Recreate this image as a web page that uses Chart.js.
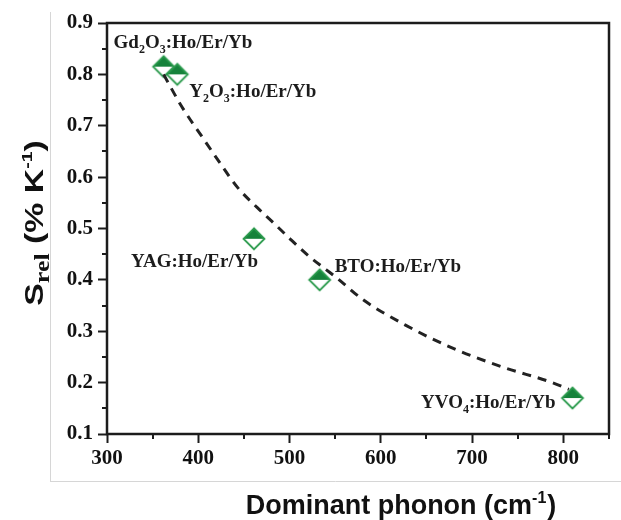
<!DOCTYPE html>
<html>
<head>
<meta charset="utf-8">
<script src="https://cdn.jsdelivr.net/npm/chart.js@4.4.0/dist/chart.umd.min.js"></script>
<style>
html,body{margin:0;padding:0;background:#fff;}
#wrap{width:621px;height:520px;position:relative;}
</style>
</head>
<body>
<div id="wrap"><canvas id="c" width="621" height="520"></canvas></div>
<script>
// ---------- data ----------
const hostNames = ['Gd₂O₃:Ho/Er/Yb', 'Y₂O₃:Ho/Er/Yb', 'YAG:Ho/Er/Yb', 'BTO:Ho/Er/Yb', 'YVO₄:Ho/Er/Yb'];
const phonon = [362, 377, 461, 533, 810];          // cm-1
const sRel = [0.815, 0.80, 0.48, 0.40, 0.17];      // % K-1

// dashed guide curve
const fitPhonon = [362, 382, 404, 424, 443, 465, 483, 501, 522, 540, 553, 580, 627, 680, 734, 788, 806];
const fitSRel   = [0.800, 0.737, 0.679, 0.627, 0.580, 0.540, 0.510, 0.479, 0.445, 0.420, 0.402, 0.362, 0.312, 0.266, 0.230, 0.200, 0.187];

const xTickValues = [300, 400, 500, 600, 700, 800];
const xTickLabels = ['300', '400', '500', '600', '700', '800'];
const yTickValues = [0.1, 0.2, 0.3, 0.4, 0.5, 0.6, 0.7, 0.8, 0.9];
const yTickLabels = ['0.1', '0.2', '0.3', '0.4', '0.5', '0.6', '0.7', '0.8', '0.9'];

const xTitle = ['Dominant phonon (cm', '-1', ')'];
const yTitle = ['S', 'rel', ' (% K', '-1', ')'];

// ---------- layout / style (kept apart from the data) ----------
const labelPlacement = [
  {dx: -50, dy: -19, align: 'left'},
  {dx: 12, dy: 23, align: 'left'},
  {dx: -123, dy: 28, align: 'left'},
  {dx: 15, dy: -8, align: 'left'},
  {dx: -17, dy: 10, align: 'right'}
];
const GREEN_FILL = '#16823b';
const GREEN_EDGE = '#2a9a4c';
const INK = '#1c1c1c';
const SERIF = '"Liberation Serif", "Times New Roman", serif';
const SANS = '"Liberation Sans", Arial, sans-serif';

function labelFor(values, labels, v) {
  for (let i = 0; i < values.length; i++) {
    if (Math.abs(values[i] - v) < 1e-6) return labels[i];
  }
  return '';
}

function makeMarker() {
  const s = 26, c = document.createElement('canvas');
  c.width = s; c.height = s;
  const g = c.getContext('2d');
  const cx = 13, cy = 13, r = 10.5;
  g.beginPath(); g.moveTo(cx - r, cy); g.lineTo(cx + r, cy); g.lineTo(cx, cy + r); g.closePath();
  g.fillStyle = '#fff'; g.fill();
  g.beginPath(); g.moveTo(cx - r, cy); g.lineTo(cx, cy - r); g.lineTo(cx + r, cy); g.closePath();
  g.fillStyle = GREEN_FILL; g.fill();
  g.beginPath(); g.moveTo(cx, cy - r); g.lineTo(cx + r, cy); g.lineTo(cx, cy + r); g.lineTo(cx - r, cy); g.closePath();
  g.strokeStyle = GREEN_EDGE; g.lineWidth = 1.8; g.lineJoin = 'miter'; g.stroke();
  return c;
}

const SUBS = '₀₁₂₃₄₅₆₇₈₉';
function segments(str) {
  const out = [];
  for (const ch of str) {
    const i = SUBS.indexOf(ch);
    const sub = i >= 0;
    const t = sub ? String(i) : ch;
    if (out.length && out[out.length - 1].sub === sub) out[out.length - 1].t += t;
    else out.push({t, sub});
  }
  return out;
}

const decor = {
  id: 'decor',
  beforeDraw(chart) {
    const ctx = chart.ctx;
    ctx.save();
    ctx.strokeStyle = '#d6d6d6';
    ctx.lineWidth = 1;
    ctx.beginPath();
    ctx.moveTo(50.5, 12); ctx.lineTo(50.5, 481.5);
    ctx.moveTo(50, 481.5); ctx.lineTo(621, 481.5);
    ctx.stroke();
    ctx.restore();
  },
  afterDatasetsDraw(chart) {
    const ctx = chart.ctx;
    const xs = chart.scales.x, ys = chart.scales.y;
    ctx.save();
    ctx.fillStyle = INK;
    ctx.textBaseline = 'alphabetic';
    hostNames.forEach((name, i) => {
      const p = labelPlacement[i];
      const px = xs.getPixelForValue(phonon[i]) + p.dx;
      const py = ys.getPixelForValue(sRel[i]) + p.dy;
      const segs = segments(name);
      let w = 0;
      segs.forEach(s => {
        ctx.font = s.sub ? 'bold 12px ' + SERIF : 'bold 19px ' + SERIF;
        s.w = ctx.measureText(s.t).width;
        w += s.w;
      });
      let x = p.align === 'right' ? px - w : px;
      ctx.textAlign = 'left';
      segs.forEach(s => {
        ctx.font = s.sub ? 'bold 12px ' + SERIF : 'bold 19px ' + SERIF;
        ctx.fillText(s.t, x, s.sub ? py + 5 : py);
        x += s.w;
      });
    });
    ctx.restore();
  },
  afterDraw(chart) {
    const ctx = chart.ctx;
    const a = chart.chartArea;
    const xs = chart.scales.x, ys = chart.scales.y;
    ctx.save();
    // frame
    ctx.strokeStyle = INK;
    ctx.lineWidth = 2.5;
    ctx.strokeRect(a.left, a.top, a.right - a.left, a.bottom - a.top);
    // minor ticks
    ctx.lineWidth = 2;
    ctx.beginPath();
    xs.ticks.forEach(t => {
      if (!labelFor(xTickValues, xTickLabels, t.value)) {
        const px = Math.round(xs.getPixelForValue(t.value));
        ctx.moveTo(px, a.bottom); ctx.lineTo(px, a.bottom + 5);
      }
    });
    ys.ticks.forEach(t => {
      if (!labelFor(yTickValues, yTickLabels, t.value)) {
        const py = Math.round(ys.getPixelForValue(t.value));
        ctx.moveTo(a.left, py); ctx.lineTo(a.left - 5, py);
      }
    });
    ctx.stroke();

    // x title
    ctx.fillStyle = '#111';
    ctx.textBaseline = 'alphabetic';
    ctx.textAlign = 'left';
    const bigX = 'bold 27px ' + SANS, supX = 'bold 16px ' + SANS;
    ctx.font = bigX; const w0 = ctx.measureText(xTitle[0]).width; const w2 = ctx.measureText(xTitle[2]).width;
    ctx.font = supX; const w1 = ctx.measureText(xTitle[1]).width;
    let x = 401 - (w0 + w1 + w2 + 1) / 2;
    const by = 514;
    ctx.font = bigX; ctx.fillText(xTitle[0], x, by); x += w0;
    ctx.font = supX; ctx.fillText(xTitle[1], x, by - 11); x += w1 + 1;
    ctx.font = bigX; ctx.fillText(xTitle[2], x, by);

    // y title (rotated)
    ctx.save();
    ctx.translate(43, 223);
    ctx.rotate(-Math.PI / 2);
    ctx.scale(1.3, 1);
    const fonts = ['bold 26px ' + SANS, 'bold 20px ' + SERIF, 'bold 26px ' + SANS, 'bold 15px ' + SANS, 'bold 26px ' + SANS];
    const offs = [0, 6, 0, -11, 0];
    const ws = yTitle.map((t, i) => { ctx.font = fonts[i]; return ctx.measureText(t).width; });
    const total = ws.reduce((s, v) => s + v, 0);
    let tx = -total / 2;
    yTitle.forEach((t, i) => {
      ctx.font = fonts[i];
      ctx.fillText(t, tx, offs[i]);
      tx += ws[i];
    });
    ctx.restore();
    ctx.restore();
  }
};

const marker = makeMarker();

new Chart(document.getElementById('c'), {
  type: 'scatter',
  data: {
    datasets: [
      {
        label: 'guide',
        data: fitPhonon.map((v, i) => ({x: v, y: fitSRel[i]})),
        showLine: true,
        borderColor: '#222',
        borderWidth: 3,
        borderDash: [9, 7],
        pointRadius: 0,
        cubicInterpolationMode: 'monotone',
        fill: false,
        order: 0
      },
      {
        label: 'hosts',
        data: phonon.map((v, i) => ({x: v, y: sRel[i]})),
        pointStyle: marker,
        pointRadius: 11,
        order: 1
      }
    ]
  },
  options: {
    responsive: false,
    animation: false,
    devicePixelRatio: 1,
    layout: {padding: {left: 0, right: 5, top: 23, bottom: 0}},
    plugins: {legend: {display: false}, tooltip: {enabled: false}},
    scales: {
      x: {
        type: 'linear',
        min: 300, max: 850,
        afterFit(scale) { scale.height = 86; },
        border: {display: false},
        grid: {
          drawOnChartArea: false,
          drawTicks: true,
          tickLength: 9,
          tickWidth: 2,
          tickColor: c => (c.tick && labelFor(xTickValues, xTickLabels, c.tick.value)) ? INK : 'rgba(0,0,0,0)'
        },
        ticks: {
          stepSize: 50,
          autoSkip: false,
          maxRotation: 0,
          padding: 3,
          color: '#111',
          font: {family: SERIF, size: 21, weight: 'bold'},
          callback: v => labelFor(xTickValues, xTickLabels, v)
        }
      },
      y: {
        type: 'linear',
        min: 0.1, max: 0.9,
        afterFit(scale) { scale.width = 107; },
        border: {display: false},
        grid: {
          drawOnChartArea: false,
          drawTicks: true,
          tickLength: 9,
          tickWidth: 2,
          tickColor: c => (c.tick && labelFor(yTickValues, yTickLabels, c.tick.value)) ? INK : 'rgba(0,0,0,0)'
        },
        ticks: {
          stepSize: 0.05,
          autoSkip: false,
          padding: 5,
          color: '#111',
          font: {family: SERIF, size: 21, weight: 'bold'},
          callback: v => labelFor(yTickValues, yTickLabels, v)
        }
      }
    }
  },
  plugins: [decor]
});
</script>
</body>
</html>
